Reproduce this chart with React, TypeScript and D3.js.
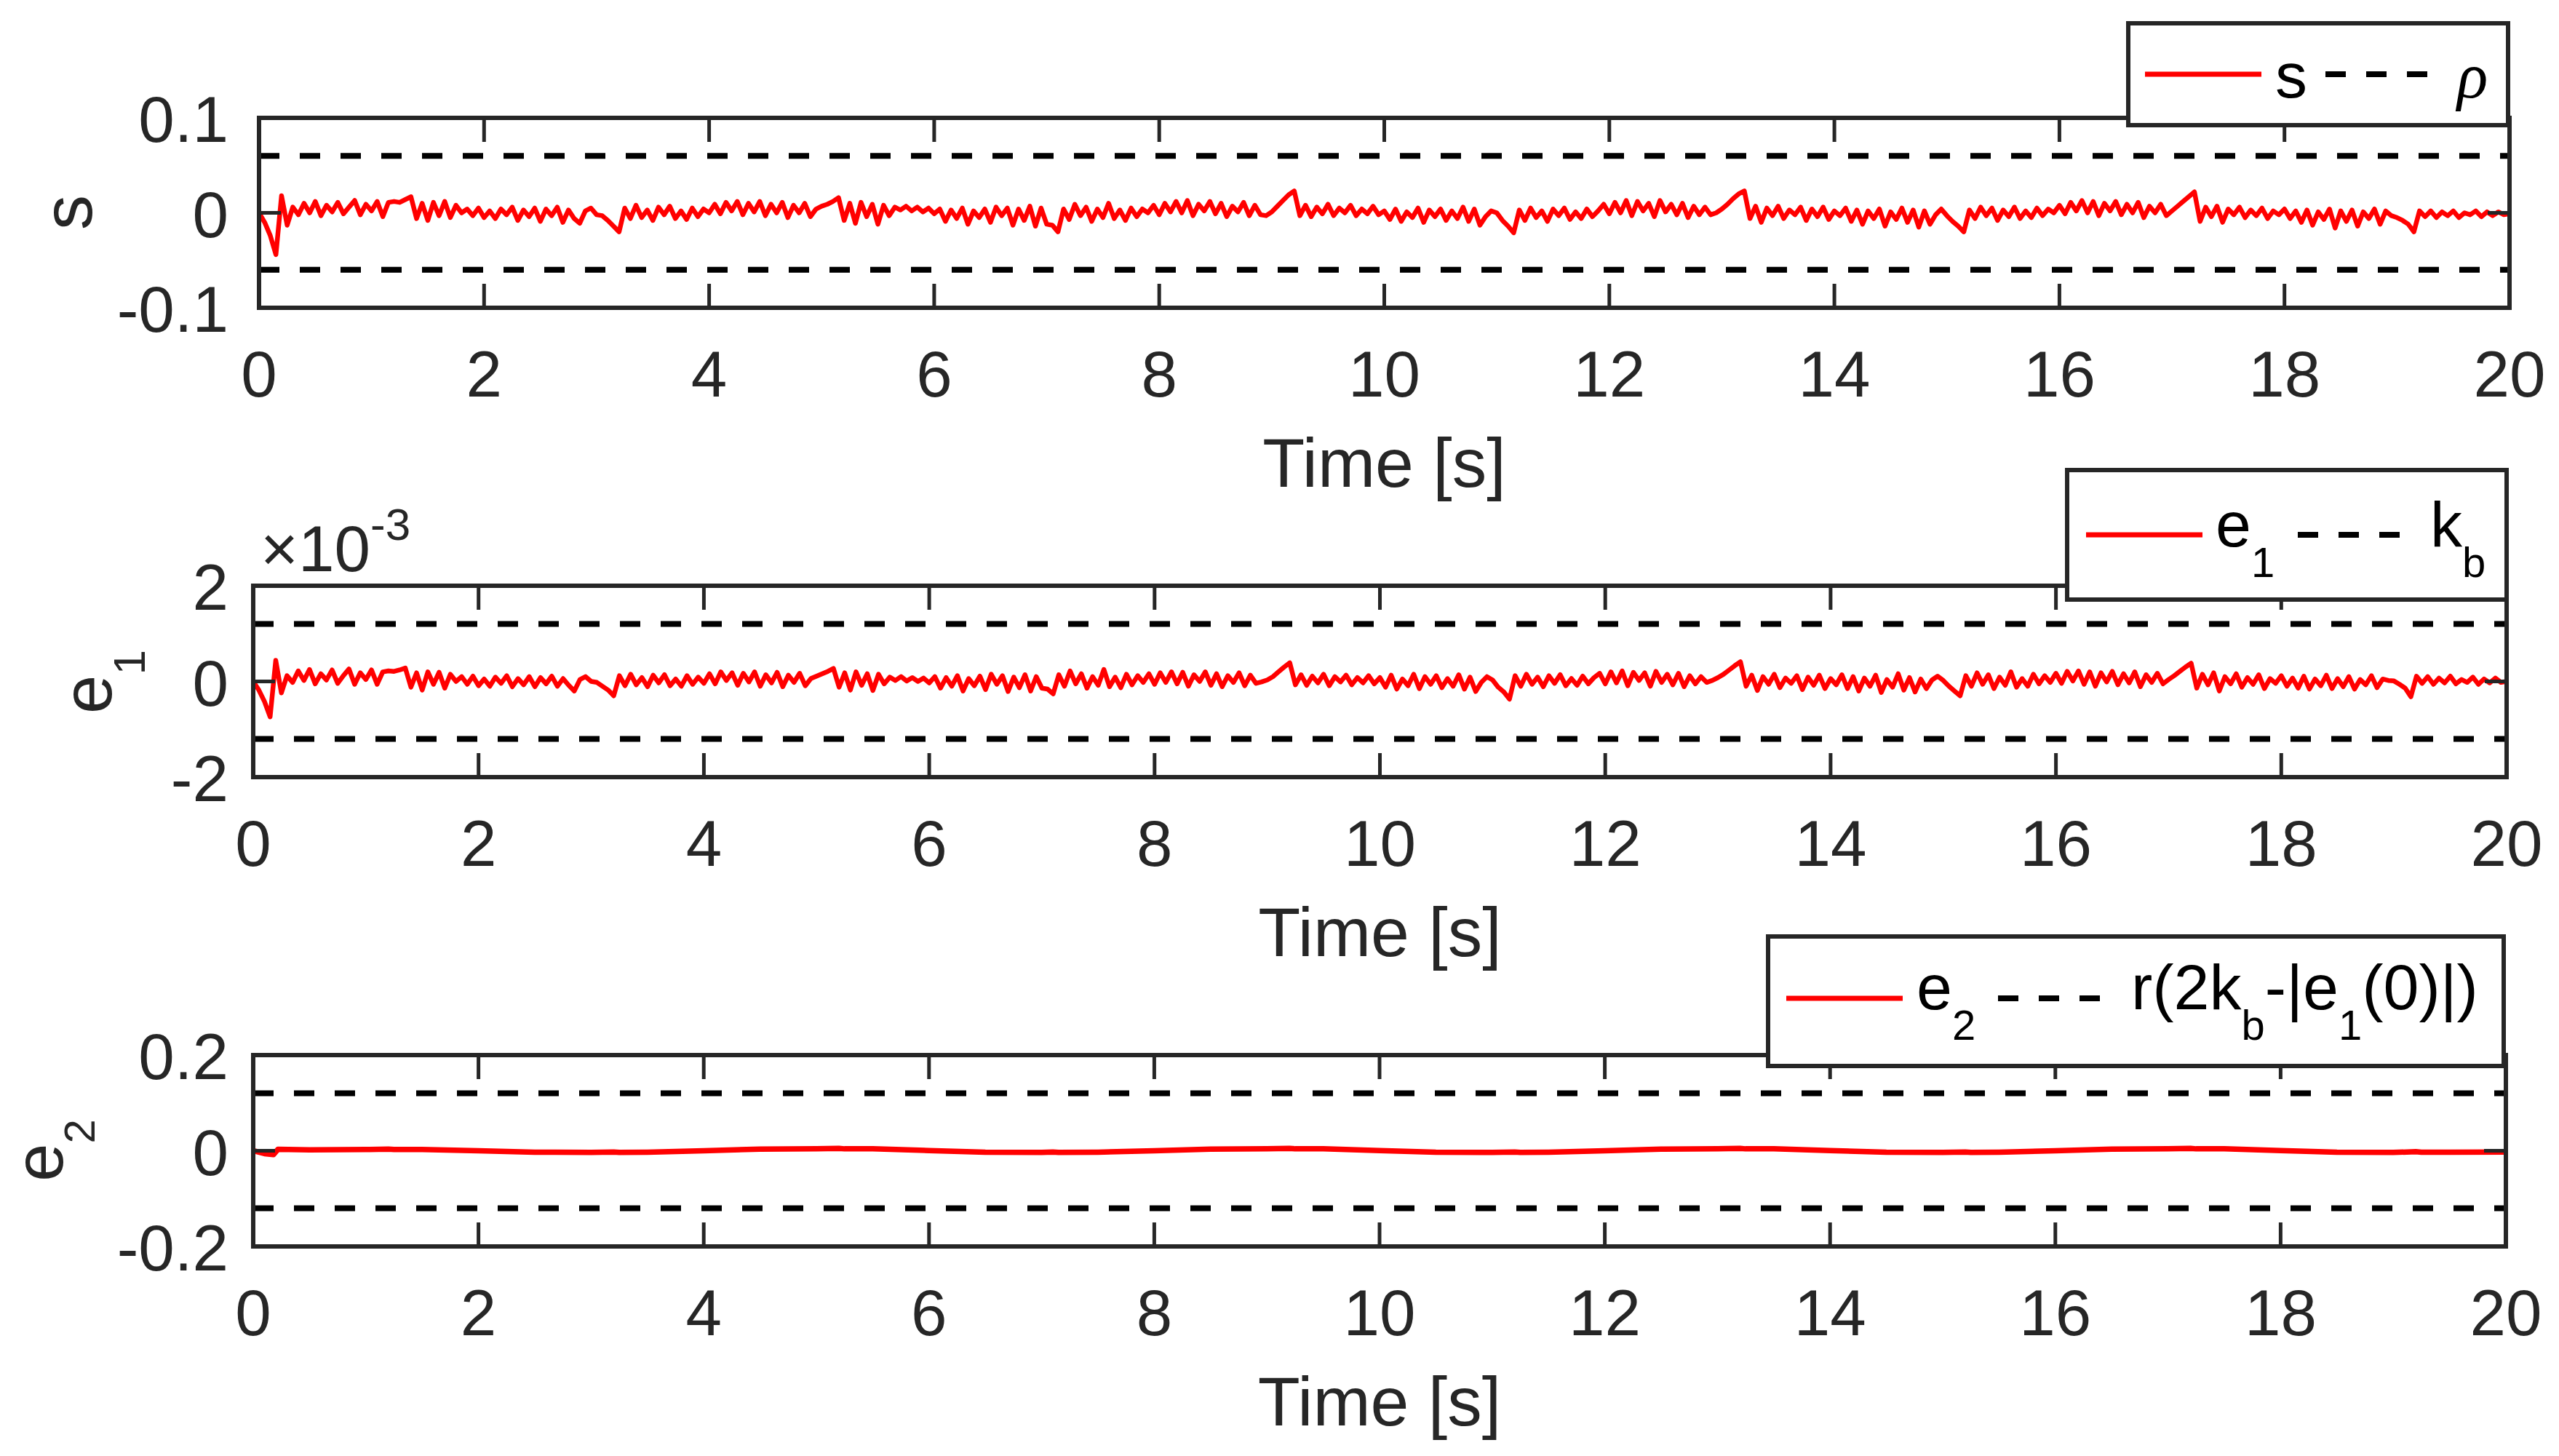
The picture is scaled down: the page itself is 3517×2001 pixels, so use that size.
import React from 'react';
import * as d3 from 'd3';

const W = 3517;
const H = 2001;

// sampling interval of the s and e1 records (s)
const SAMPLE_DT = 0.05;

// s (units of 1e-3), one row per second
const sMilli = [
  0, -10, -24, -44, 18, -13, 6, -2, 10, 0, 12, -3, 8, 1, 11, -1, 6, 13, -2, 9,
  2, 12, -4, 11, 12, 11, 14, 17, -6, 10, -8, 11, -3, 12, -5, 8, 0, 4, -3, 5,
  -5, 2, -6, 4, -2, 6, -8, 3, -4, 5, -9, 4, -3, 6, -10, 3, -6, -11, 2, 5,
  -2, -3, -8, -14, -20, 5, -6, 8, -5, 3, -8, 6, -2, 7, -6, 2, -7, 5, -4, 4,
  0, 9, -1, 11, 2, 12, -2, 10, 1, 12, -3, 9, 0, 11, -5, 8, 0, 10, -4, 4,
  7, 9, 12, 16, -8, 10, -11, 11, -4, 9, -12, 8, -3, 6, 3, 7, 2, 6, 1, 5,
  -1, 4, -9, 3, -6, 5, -12, 2, -5, 4, -10, 6, -3, 5, -13, 4, -8, 7, -14, 5,
  -12, -13, -20, 4, -7, 9, -3, 6, -9, 4, -5, 10, -6, 3, -8, 5, -4, 4, 0, 8,
  -2, 10, 1, 12, 0, 13, -3, 9, 2, 12, -1, 10, -4, 7, 1, 11, -3, 8, -2, -3,
  1, 7, 13, 19, 23, -3, 8, -4, 6, -1, 9, -3, 5, 0, 8, -3, 4, -1, 7, -2,
  2, -7, 4, -9, 1, -5, 5, -10, 3, -4, 4, -8, 2, -6, 6, -9, 4, -13, -4, 2,
  0, -8, -14, -21, 3, -8, 5, -5, 2, -9, 4, -3, 5, -7, 1, -6, 4, -4, 2, 9,
  -1, 11, 0, 13, -3, 12, 2, 10, -4, 13, 1, 9, -2, 10, -5, 7, -2, 6, -2, 0,
  4, 9, 15, 20, 23, -6, 7, -10, 5, -3, 7, -6, 3, -2, 6, -8, 4, -4, 6, -7,
  2, -3, 5, -9, 3, -12, 2, -6, 4, -14, 1, -7, 5, -10, 3, -15, 2, -12, -2, 4,
  -3, -9, -14, -20, 3, -6, 6, -3, 5, -8, 3, -4, 6, -6, 2, -5, 5, -3, 4, 0,
  8, -1, 11, 2, 13, 0, 12, -3, 10, 2, 12, -2, 9, 0, 11, -5, 7, 0, 9, -3,
  2, 7, 12, 17, 22, -9, 6, -4, 7, -10, 4, -2, 6, -5, 3, -3, 5, -6, 2, -2,
  4, -6, 2, -10, 3, -13, 1, -7, 4, -16, 2, -9, 3, -14, 1, -6, 4, -12, 2, -3,
  -5, -8, -12, -20, 2, -4, 2, -5, 1, -3, 2, -5, 0, -2, 2, -4, 1, -3, 1, -2,
  -1,
];

// e1 (units of 1e-3, as on the axis), one row per second
const e1Milli = [
  0, -0.18, -0.42, -0.74, 0.44, -0.24, 0.12, -0.02, 0.22, 0.02, 0.25, -0.05, 0.16, 0.03, 0.24, -0.04, 0.12, 0.26, -0.06, 0.18,
  0.04, 0.24, -0.06, 0.2, 0.22, 0.21, 0.24, 0.28, -0.12, 0.18, -0.18, 0.2, -0.06, 0.19, -0.14, 0.15, 0, 0.1, -0.06, 0.11,
  -0.09, 0.05, -0.1, 0.09, -0.04, 0.12, -0.11, 0.06, -0.07, 0.1, -0.11, 0.08, -0.05, 0.11, -0.1, 0.06, -0.08, -0.2, 0.04, 0.1,
  0, -0.02, -0.1, -0.18, -0.3, 0.12, -0.09, 0.15, -0.07, 0.08, -0.11, 0.13, -0.03, 0.14, -0.09, 0.05, -0.1, 0.12, -0.06, 0.09,
  -0.04, 0.16, -0.05, 0.2, 0.02, 0.18, -0.08, 0.17, -0.01, 0.2, -0.1, 0.14, -0.03, 0.19, -0.11, 0.13, -0.02, 0.17, -0.09, 0.06,
  0.11, 0.16, 0.21, 0.27, -0.12, 0.18, -0.18, 0.2, -0.08, 0.16, -0.19, 0.15, -0.05, 0.09, 0.02, 0.1, 0.01, 0.08, 0, 0.07,
  -0.03, 0.1, -0.14, 0.08, -0.1, 0.12, -0.2, 0.06, -0.09, 0.11, -0.17, 0.15, -0.06, 0.12, -0.21, 0.09, -0.13, 0.14, -0.2, 0.1,
  -0.14, -0.16, -0.26, 0.14, -0.1, 0.22, -0.05, 0.16, -0.14, 0.1, -0.08, 0.25, -0.11, 0.09, -0.13, 0.15, -0.07, 0.12, -0.02, 0.16,
  -0.06, 0.18, -0.02, 0.2, -0.05, 0.19, -0.1, 0.14, 0, 0.2, -0.08, 0.16, -0.11, 0.12, -0.02, 0.18, -0.09, 0.13, -0.04, -0.01,
  0.03, 0.1, 0.2, 0.3, 0.39, -0.07, 0.14, -0.08, 0.11, -0.03, 0.15, -0.09, 0.1, -0.01, 0.13, -0.07, 0.08, -0.03, 0.12, -0.05,
  0.08, -0.12, 0.13, -0.16, 0.05, -0.09, 0.15, -0.15, 0.1, -0.06, 0.12, -0.13, 0.06, -0.1, 0.14, -0.16, 0.09, -0.21, -0.02, 0.1,
  0.03, -0.12, -0.22, -0.37, 0.12, -0.1, 0.15, -0.06, 0.09, -0.11, 0.12, -0.04, 0.14, -0.09, 0.06, -0.08, 0.11, -0.05, 0.08, 0.17,
  -0.05, 0.2, -0.03, 0.22, -0.09, 0.19, 0.02, 0.18, -0.1, 0.21, -0.02, 0.15, -0.07, 0.17, -0.11, 0.12, -0.05, 0.1, -0.02, 0.02,
  0.08, 0.15, 0.24, 0.33, 0.41, -0.1, 0.13, -0.19, 0.1, -0.06, 0.15, -0.13, 0.07, -0.04, 0.12, -0.17, 0.09, -0.08, 0.13, -0.15,
  0.06, -0.07, 0.14, -0.15, 0.1, -0.2, 0.07, -0.1, 0.13, -0.23, 0.04, -0.12, 0.16, -0.18, 0.08, -0.22, 0.05, -0.15, 0.03, 0.11,
  0.02, -0.1, -0.2, -0.3, 0.12, -0.1, 0.18, -0.06, 0.14, -0.15, 0.09, -0.08, 0.2, -0.12, 0.06, -0.1, 0.15, -0.05, 0.12, -0.02,
  0.17, -0.04, 0.21, 0.01, 0.22, -0.06, 0.2, -0.1, 0.18, -0.01, 0.21, -0.07, 0.16, -0.03, 0.2, -0.11, 0.14, -0.02, 0.17, -0.05,
  0.04, 0.12, 0.21, 0.3, 0.38, -0.14, 0.15, -0.07, 0.18, -0.2, 0.1, -0.05, 0.16, -0.12, 0.08, -0.06, 0.14, -0.15, 0.06, -0.04,
  0.12, -0.1, 0.07, -0.14, 0.11, -0.16, 0.05, -0.09, 0.13, -0.15, 0.06, -0.11, 0.1, -0.16, 0.04, -0.07, 0.12, -0.13, 0.05, 0.02,
  0.01, -0.06, -0.14, -0.32, 0.11, -0.04, 0.1, -0.06, 0.07, -0.03, 0.11, -0.05, 0.04, -0.02, 0.09, -0.06, 0.05, -0.03, 0.07, -0.02,
  0,
];

// e2 (units of 1e-3)
const e2Time = [
  0, 0.1, 0.18, 0.22, 0.5, 1.0, 1.2, 1.25, 1.5, 2.0, 2.5, 3.0, 3.2, 3.25, 3.5, 4.0,
  4.5, 5.0, 5.2, 5.25, 5.5, 6.0, 6.5, 7.0, 7.1, 7.15, 7.5, 8.0,
  8.5, 9.0, 9.2, 9.25, 9.5, 10.0, 10.5, 11.0, 11.2, 11.25, 11.5, 12.0,
  12.5, 13.0, 13.2, 13.25, 13.5, 14.0, 14.5, 15.0, 15.2, 15.25, 15.5, 16.0,
  16.5, 17.0, 17.2, 17.25, 17.5, 18.0, 18.5, 19.0, 19.2, 19.25, 19.5, 20.0,
];
const e2Milli = [
  0, -6, -8, 3, 2, 2.5, 3.5, 2.5, 2.5, 0, -3, -3.5, -2.5, -3.5, -3, 0,
  3.5, 4, 5, 4, 4, 0.5, -3, -3.5, -2.5, -3.5, -3, 0,
  3.5, 4, 5, 4, 4, 0.5, -3, -3.5, -2.5, -3.5, -3, 0,
  3.5, 4, 5, 4, 4, 0.5, -3, -3.5, -2.5, -3.5, -3, 0,
  3.5, 4, 5, 4, 4, 0.5, -3, -3.5, -2, -3, -3, -2.5,
];

// bounds (dashed lines)
const rhoBound = 0.06;
const kbBound = 1.2; // x 1e-3
const e2Bound = 0.12;

const xTicks = [0, 2, 4, 6, 8, 10, 12, 14, 16, 18, 20];
const sTicks = [-0.1, 0, 0.1];
const e1Ticks = [-2, 0, 2];
const e2Ticks = [-0.2, 0, 0.2];

const AX = '#262626';
const RED = '#ff0000';
const FONT = "'Liberation Sans', Arial, Helvetica, sans-serif";
const TICK_FS = 89;
const LABEL_FS = 95;
const LEG_FS = 88;
const SUB_FS = 58;

type Box = { l: number; r: number; t: number; b: number };
type Pt = [number, number];

function Panel(props: {
  id: string;
  box: Box;
  yDomain: [number, number];
  yTicks: number[];
  data: Pt[];
  bound: number;
  lineWidth: number;
}) {
  const { id, box, yDomain, yTicks, data, bound, lineWidth } = props;
  const x = d3.scaleLinear().domain([0, 20]).range([box.l, box.r]);
  const y = d3.scaleLinear().domain(yDomain).range([box.b, box.t]);
  const line = d3
    .line<Pt>()
    .x((d) => x(d[0]))
    .y((d) => y(d[1]));
  const boundLine = (v: number) => line([[0, v], [20, v]]) || '';
  const tickLen = 33;
  return (
    <g>
      <defs>
        <clipPath id={id}>
          <rect x={box.l} y={box.t} width={box.r - box.l} height={box.b - box.t} />
        </clipPath>
      </defs>
      <rect x={box.l} y={box.t} width={box.r - box.l} height={box.b - box.t} fill="#fff" />
      <g clipPath={`url(#${id})`}>
        <path d={line(data) || ''} fill="none" stroke={RED} strokeWidth={lineWidth} strokeLinejoin="round" />
        {[bound, -bound].map((v) => (
          <path key={v} d={boundLine(v)} fill="none" stroke="#000" strokeWidth={8} strokeDasharray="28 28" />
        ))}
      </g>
      {xTicks.map((t) => (
        <g key={t}>
          <line x1={x(t)} x2={x(t)} y1={box.b} y2={box.b - tickLen} stroke={AX} strokeWidth={5} />
          <line x1={x(t)} x2={x(t)} y1={box.t} y2={box.t + tickLen} stroke={AX} strokeWidth={5} />
          <text x={x(t)} y={box.b + 122} textAnchor="middle" fontSize={TICK_FS} fill={AX} fontFamily={FONT}>
            {String(t)}
          </text>
        </g>
      ))}
      {yTicks.map((v) => (
        <g key={v}>
          <line x1={box.l} x2={box.l + 30} y1={y(v)} y2={y(v)} stroke={AX} strokeWidth={5} />
          <line x1={box.r} x2={box.r - 30} y1={y(v)} y2={y(v)} stroke={AX} strokeWidth={5} />
          <text x={314} y={y(v) + 33} textAnchor="end" fontSize={TICK_FS} fill={AX} fontFamily={FONT}>
            {String(v)}
          </text>
        </g>
      ))}
      <rect
        x={box.l}
        y={box.t}
        width={box.r - box.l}
        height={box.b - box.t}
        fill="none"
        stroke={AX}
        strokeWidth={6}
      />
      <text
        x={(box.l + box.r) / 2}
        y={box.b + 246}
        textAnchor="middle"
        fontSize={LABEL_FS}
        fill={AX}
        fontFamily={FONT}
      >
        Time [s]
      </text>
    </g>
  );
}

function LegendBox(props: { x: number; y: number; w: number; h: number; children?: React.ReactNode }) {
  return (
    <g>
      <rect x={props.x} y={props.y} width={props.w} height={props.h} fill="#fff" stroke={AX} strokeWidth={6} />
      {props.children}
    </g>
  );
}

function Sample(props: { x: number; y: number; dashed?: boolean }) {
  return props.dashed ? (
    <line x1={props.x} x2={props.x + 160} y1={props.y} y2={props.y} stroke="#000" strokeWidth={8} strokeDasharray="28 28" />
  ) : (
    <line x1={props.x} x2={props.x + 160} y1={props.y} y2={props.y} stroke={RED} strokeWidth={7} />
  );
}

export default function App() {
  const P1: Box = { l: 356, r: 3449, t: 162, b: 423 };
  const P2: Box = { l: 348, r: 3445, t: 805, b: 1068 };
  const P3: Box = { l: 348, r: 3444, t: 1450, b: 1713 };

  const sData: Pt[] = sMilli.map((v, i) => [i * SAMPLE_DT, v / 1000]);
  const e1Data: Pt[] = e1Milli.map((v, i) => [i * SAMPLE_DT, v]);
  const e2Data: Pt[] = e2Milli.map((v, i) => [e2Time[i], v / 1000]);

  return (
    <svg
      width={W}
      height={H}
      viewBox={`0 0 ${W} ${H}`}
      style={{ position: 'absolute', left: 0, top: 0, background: '#fff' }}
      fontFamily={FONT}
    >
      <rect x={0} y={0} width={W} height={H} fill="#fff" />
      <Panel id="c1" box={P1} yDomain={[-0.1, 0.1]} yTicks={sTicks} data={sData} bound={rhoBound} lineWidth={6.5} />
      <Panel id="c2" box={P2} yDomain={[-2, 2]} yTicks={e1Ticks} data={e1Data} bound={kbBound} lineWidth={6.5} />
      <Panel id="c3" box={P3} yDomain={[-0.2, 0.2]} yTicks={e2Ticks} data={e2Data} bound={e2Bound} lineWidth={7.5} />

      {/* y labels */}
      <text transform="translate(126,292) rotate(-90)" textAnchor="middle" fontSize={96} fill={AX}>
        s
      </text>
      <text transform="translate(153,937) rotate(-90)" textAnchor="middle" fontSize={96} fill={AX}>
        e<tspan dy={46} fontSize={62}>1</tspan>
      </text>
      <text transform="translate(86,1581) rotate(-90)" textAnchor="middle" fontSize={94} fill={AX}>
        e<tspan dy={44} fontSize={60}>2</tspan>
      </text>

      {/* exponent */}
      <text x={358} y={785} fontSize={TICK_FS} fill={AX}>
        ×10<tspan dy={-43} fontSize={62}>-3</tspan>
      </text>

      {/* legends */}
      <LegendBox x={2925} y={32} w={522} h={140}>
        <Sample x={2948} y={102} />
        <text x={3127} y={134} fontSize={LEG_FS} fill="#000">s</text>
        <Sample x={3196} y={102} dashed />
        <text x={3377} y={134} fontSize={LEG_FS} fill="#000" fontStyle="italic" fontFamily="'Liberation Serif', 'Times New Roman', serif">
          ρ
        </text>
      </LegendBox>

      <LegendBox x={2841} y={646} w={604} h={178}>
        <Sample x={2867} y={735} />
        <text x={3045} y={751} fontSize={LEG_FS} fill="#000">
          e<tspan dy={42} fontSize={SUB_FS}>1</tspan>
        </text>
        <Sample x={3158} y={735} dashed />
        <text x={3340} y={751} fontSize={LEG_FS} fill="#000">
          k<tspan dy={42} fontSize={SUB_FS}>b</tspan>
        </text>
      </LegendBox>

      <LegendBox x={2430} y={1287} w={1011} h={178}>
        <Sample x={2455} y={1372} />
        <text x={2634} y={1387} fontSize={LEG_FS} fill="#000">
          e<tspan dy={42} fontSize={SUB_FS}>2</tspan>
        </text>
        <Sample x={2746} y={1372} dashed />
        <text x={2929} y={1387} fontSize={LEG_FS} fill="#000">
          r(2k<tspan dy={42} fontSize={SUB_FS}>b</tspan>
          <tspan dy={-42}>-|e</tspan>
          <tspan dy={42} fontSize={SUB_FS}>1</tspan>
          <tspan dy={-42}>(0)|)</tspan>
        </text>
      </LegendBox>
    </svg>
  );
}
